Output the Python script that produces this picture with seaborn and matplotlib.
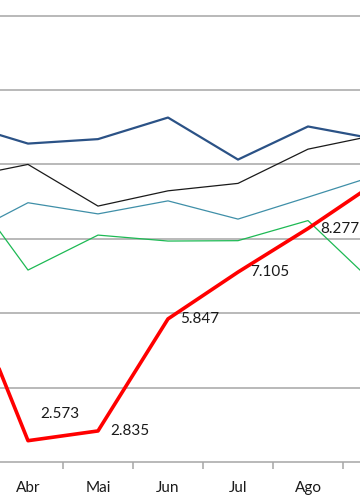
import numpy as np
import pandas as pd
import matplotlib
matplotlib.use('Agg')
import matplotlib.pyplot as plt
import seaborn as sns

# months (chart is a crop: Mar and Set sit just outside the frame)
meses = ['Mar', 'Abr', 'Mai', 'Jun', 'Jul', 'Ago', 'Set']

serie_azul = [11.13, 10.56, 10.68, 11.26, 10.13, 11.02, 10.67]
serie_preta = [9.62, 10.00, 8.88, 9.29, 9.49, 10.41, 10.80]
serie_teal = [7.99, 8.97, 8.67, 9.02, 8.53, 9.12, 9.72]
serie_verde = [9.74, 7.16, 8.10, 7.94, 7.95, 8.49, 6.70]
serie_vermelha = [7.25, 2.573, 2.835, 5.847, 7.105, 8.277, 9.55]

rotulos = {1: '2.573', 2: '2.835', 3: '5.847', 4: '7.105', 5: '8.277'}

sns.set_theme(style='white')
plt.rcParams['font.family'] = ['Lato', 'DejaVu Sans']

x = np.arange(len(meses))
df = pd.DataFrame({'x': x, 'azul': serie_azul, 'preta': serie_preta,
                   'teal': serie_teal, 'verde': serie_verde,
                   'vermelha': serie_vermelha})

fig = plt.figure(figsize=(3.6, 5.04), dpi=100)
ax = fig.add_axes([0, 42 / 504, 1, 462 / 504])

for yv in range(4, 16, 2):
    ax.axhline(yv, color='#a6a6a6', lw=1.1, zorder=0)

estilos = [('azul', '#2b5286', 1.6), ('preta', '#1a1a1a', 0.9),
           ('teal', '#3f8fa8', 0.9), ('verde', '#1db954', 0.9),
           ('vermelha', '#ff0000', 2.6)]
for col, cor, lw in estilos:
    sns.lineplot(data=df, x='x', y=col, color=cor, lw=lw, ax=ax, zorder=3)

for i, txt in rotulos.items():
    if i == 1:
        off = (9, 19)
    else:
        off = (9, 0)
    ax.annotate(txt, (x[i], serie_vermelha[i]), xytext=off,
                textcoords='offset points', ha='left', va='center',
                fontsize=11, color='#1a1a1a', zorder=5)

ax.set_xlabel('')
ax.set_ylabel('')
ax.set_yticks([])
ax.set_xticks(x)
ax.set_xticklabels(meses, fontsize=11, color='#1a1a1a')
ax.set_xticks(x + 0.5, minor=True)
ax.set_xlim(0.6, 5.743)
ax.set_ylim(2, 14.42)
ax.tick_params(axis='x', which='major', length=0, pad=14)
ax.tick_params(axis='x', which='minor', length=5, width=1.1,
               color='#a6a6a6', direction='out', bottom=True)
for s in ['left', 'right', 'top']:
    ax.spines[s].set_visible(False)
ax.spines['bottom'].set_color('#a6a6a6')
ax.spines['bottom'].set_linewidth(1.1)

fig.savefig('out.png', dpi=100)
